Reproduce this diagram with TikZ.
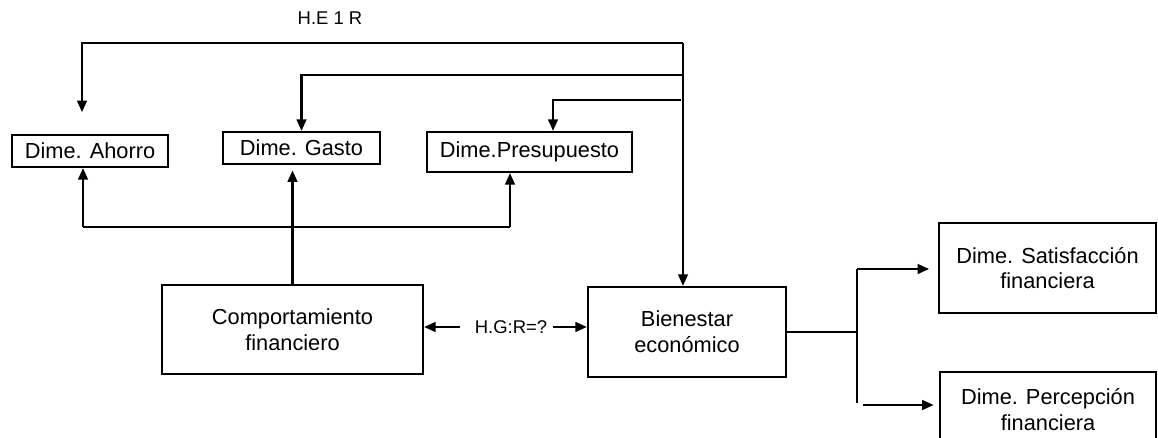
\documentclass[tikz,border=0pt]{standalone}
\usepackage{fontspec}
\setmainfont{Liberation Sans}
\usetikzlibrary{arrows.meta}
\begin{document}
\begin{tikzpicture}[x=0.02cm, y=-0.02cm, line width=1.2pt,
    box/.style = {shape=rectangle, draw, line width=1.3pt, align=center,
      inner sep=0pt, font=\fontsize{12.4}{14.7}\selectfont},
    lbl/.style = {inner sep=0pt, font=\fontsize{10.5}{12}\selectfont},
    arr/.style = {-{Triangle[length=6.5pt,width=5.5pt]}}]
    \clip (0,0) rectangle (1158,438);
    % upper boxes
    \node[box, minimum width=3.12cm, minimum height=0.64cm] (ahorro) at (90,151) {Dime. Ahorro};
    \node[box, minimum width=3.14cm, minimum height=0.64cm] (gasto) at (301.5,148) {Dime. Gasto};
    \node[box, minimum width=4.1cm, minimum height=0.8cm] (presu) at (529.5,152) {Dime.Presupuesto};
    % main boxes
    \node[box, minimum width=5.22cm, minimum height=1.78cm] (comp) at (292.5,329.5) {Comportamiento\\financiero};
    \node[box, minimum width=3.96cm, minimum height=1.8cm] (bien) at (687,332) {Bienestar\\económico};
    \node[box, minimum width=4.34cm, minimum height=1.8cm] (sat) at (1047.5,268) {Dime. Satisfacción\\financiera};
    \node[box, minimum width=4.32cm, minimum height=1.5cm] (perc) at (1048,409.5) {Dime. Percepción\\financiera};
    % labels
    \node[lbl] (he) at (330,18) {H.E 1 R};
    \node[lbl] (hg) at (511,327) {H.G:R=?};

    % hypothesis lines from the top
    \coordinate (hub) at (683,43);
    \draw[arr, shorten >=13pt] (hub) -| (82,135);
    \draw[arr] (hub) -- (hub |- bien.north);
    \draw[arr] (683,75) -| (gasto.north);
    \coordinate (pin) at (553,100);
    \draw[arr] (681,100) -- (pin) -- (pin |- presu.north);

    % lines from Comportamiento
    \draw[arr, shorten >=3pt] (comp.north) -- (comp.north |- gasto.south);
    \coordinate (bl) at (83,227);
    \coordinate (br) at (510,227);
    \draw[arr] (bl) -- (bl |- ahorro.south);
    \draw (bl) -- (br);
    \draw[arr] (br) -- (br |- presu.south);

    % H.G:R
    \draw[arr] ([xshift=-8pt]hg.west) -- (comp.east |- hg.west);
    \draw[arr] ([xshift=3pt]hg.east) -- (bien.west |- hg.east);

    % fork to the dimensions
    \coordinate (fork) at (857,332);
    \draw (bien.east |- fork) -- (fork);
    \draw (857,269) -- (857,403);
    \draw[arr, shorten >=5pt] (857,269) -- (sat.west |- 0,269);
    \draw[arr, shorten >=3pt] (863,405) -- (perc.west |- 0,405);
\end{tikzpicture}
\end{document}
